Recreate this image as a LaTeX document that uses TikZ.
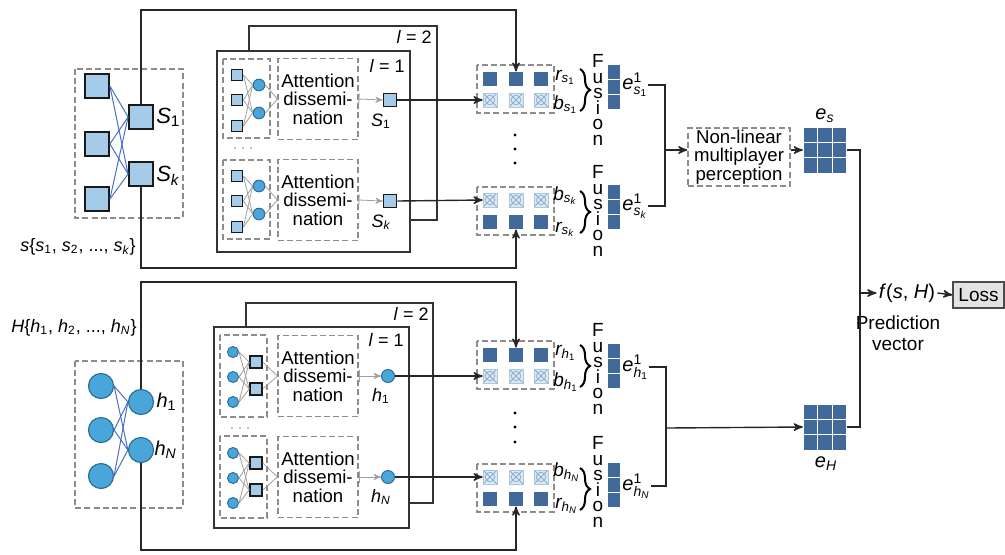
\documentclass[tikz,border=0pt]{standalone}
\usepackage{fontspec}
\setmainfont{Liberation Sans}
\usetikzlibrary{calc}
\usetikzlibrary{arrows}
\usetikzlibrary{decorations.pathreplacing}

\definecolor{sqblue}{HTML}{A6CBE8}
\definecolor{cirblue}{HTML}{4AA6DA}
\definecolor{cirline}{HTML}{2D6E98}
\definecolor{cellblue}{HTML}{41699A}
\definecolor{netblue}{HTML}{4A6FC8}
\definecolor{xfill}{HTML}{DDE8F3}
\definecolor{xline}{HTML}{8AAED2}

\tikzset{
 dashbox/.style={draw=gray!90, dash pattern=on 3pt off 1.6pt, line width=0.6pt},
 bigsq/.style={draw=black!90, line width=0.9pt, fill=sqblue, minimum size=12pt, inner sep=0},
 bigcirc/.style={circle, draw=cirline, line width=0.6pt, fill=cirblue, minimum size=12.5pt, inner sep=0},
 smsq/.style={draw=black!90, line width=0.8pt, fill=sqblue, minimum size=5.6pt, inner sep=0},
 smcirc/.style={circle, draw=cirline, line width=0.5pt, fill=cirblue, minimum size=5.8pt, inner sep=0},
 netline/.style={netblue, line width=0.5pt},
 grayline/.style={gray!75, line width=0.4pt},
 conn/.style={black!85, line width=0.7pt},
 frame/.style={draw=black!80, line width=0.7pt},
 fcell/.style={fill=cellblue, minimum size=7pt, inner sep=0},
 xcell/.style={fill=xfill, draw=xline!70, line width=0.3pt, minimum size=7pt, inner sep=0,
  path picture={
   \draw[xline, line width=0.4pt] (path picture bounding box.south west) -- (path picture bounding box.north east)
     (path picture bounding box.north west) -- (path picture bounding box.south east);
   \draw[xline, line width=0.4pt] (path picture bounding box.center) circle (2.4pt);
  }},
 vcell/.style={fill=cellblue, draw=white, line width=0.4pt, minimum width=6.8pt, minimum height=7.5pt, inner sep=0},
 gcell/.style={fill=cellblue, draw=white, line width=0.4pt, minimum width=7.25pt, minimum height=7.65pt, inner sep=0},
 att/.style={dashbox, minimum width=40pt, minimum height=40.5pt, align=center, inner sep=0, font=\fontsize{9.3}{9.2}\selectfont},
 lbl/.style={inner sep=1pt, font=\fontsize{9}{10}\selectfont},
 sublbl/.style={inner sep=0pt, font=\fontsize{9.5}{10}\selectfont},
 biglbl/.style={inner sep=1pt, font=\fontsize{11}{12}\selectfont},
 fusion/.style={align=center, inner sep=0, font=\fontsize{9.5}{7.8}\selectfont},
 brc/.style={decorate, decoration={brace, amplitude=5pt}, line width=1pt},
}

\begin{document}
\begin{tikzpicture}[x=0.5pt, y=-0.5pt, >=stealth']
\useasboundingbox (0,0) rectangle (1005,554);

% ---- top half: s ----
\draw[dashbox] (75,69) rectangle (183,218);
\foreach \i/\y in {1/86,2/144,3/199}
 \node[bigsq] (sin\i) at (97,\y) {};
\node[bigsq] (S1) at (141,117) {};
\node[bigsq] (Sk) at (141,174) {};
\foreach \i in {1,2,3} {
 \draw[netline] (sin\i.east) -- (S1.west);
 \draw[netline] (sin\i.east) -- (Sk.west);
}
\node[biglbl, anchor=west] (S1lbl) at (S1.east) {$\mathit{S}_{\mathrm{1}}$};
\node[biglbl, anchor=west] (Sklbl) at ([yshift=-1pt]Sk.east) {$\mathit{S}_{\mathit{k}}$};
\node[lbl] (slbl) at (78,247) {\textit{s}\{\textit{s}$_{\mathrm{1}}$, \textit{s}$_{\mathrm{2}}$, ..., \textit{s}$_{\mathit{k}}$\}};

\draw[frame] (249,26) rectangle (437,220);
\draw[frame, fill=white] (217,51) rectangle (410,252);
\node[lbl, anchor=east] (sl2) at (434,37) {\textit{l} = 2};
\node[lbl, anchor=east] (sl1) at (407,66) {\textit{l} = 1};
\foreach \x in {235,243,251}
 \fill[gray] (\x,148) circle (0.4pt);

\foreach \r/\o in {1/0, k/101} {
 \draw[dashbox] (223,59+\o) rectangle (270,138+\o);
 \foreach \i/\y in {1/75,2/100,3/126}
  \node[smsq] (ts\r\i) at (237,\y+\o) {};
 \foreach \j/\y in {1/85,2/113}
  \node[smcirc] (tc\r\j) at (259,\y+\o) {};
 \node[att] (tatt\r) at (318,99+\o) {Attention\\dissemi-\\nation};
 \foreach \i in {1,2,3}
  \foreach \j in {1,2}
   \draw[grayline] (ts\r\i.east) -- (tc\r\j.west);
 \foreach \j in {1,2}
  \draw[grayline] (tc\r\j.east) -- (tatt\r.west);
 \node[smsq, minimum size=6.5pt] (ss\r) at (390,100+\o) {};
 \draw[grayline, |->] (tatt\r.east) -- (ss\r.west);
}
\node[lbl] (ss1lbl) at (381,121) {$\mathit{S}_{\mathrm{1}}$};
\node[lbl] (ssklbl) at (381,222) {$\mathit{S}_{\mathit{k}}$};

% ---- bottom half: H ----
\draw[dashbox] (75,361) rectangle (183,508);
\foreach \i/\y in {1/386,2/430,3/476}
 \node[bigcirc] (hin\i) at (101,\y) {};
\node[bigcirc] (h1) at (141,402) {};
\node[bigcirc] (hN) at (141,450) {};
\foreach \i in {1,2,3} {
 \draw[netline] (hin\i.east) -- (h1.west);
 \draw[netline] (hin\i.east) -- (hN.west);
}
\node[lbl, anchor=west, font=\fontsize{10}{11}\selectfont] (h1lbl) at (h1.east) {$\mathit{h}_{\mathrm{1}}$};
\node[lbl, anchor=west, font=\fontsize{10}{11}\selectfont] (hNlbl) at ([xshift=-1pt]hN.east) {$\mathit{h}_{\mathit{N}}$};
\node[lbl] (hlbl) at (74,328) {\textit{H}\{\textit{h}$_{\mathrm{1}}$, \textit{h}$_{\mathrm{2}}$, ..., \textit{h}$_{\mathit{N}}$\}};

\draw[frame] (246,303) rectangle (433,503);
\draw[frame, fill=white] (214,327) rectangle (409,528);
\node[lbl, anchor=east] (hl2) at (431,314) {\textit{l} = 2};
\node[lbl, anchor=east] (hl1) at (406,340) {\textit{l} = 1};
\foreach \x in {232,240,248}
 \fill[gray] (\x,428) circle (0.4pt);

\foreach \r/\o in {1/0, N/101} {
 \draw[dashbox] (220,335+\o) rectangle (267,417+\o);
 \foreach \i/\y in {1/352,2/377,3/402}
  \node[smcirc, minimum size=5.5pt] (bc\r\i) at (233,\y+\o) {};
 \foreach \j/\y in {1/362,2/389}
  \node[smsq, minimum size=6pt] (bs\r\j) at (256,\y+\o) {};
 \node[att] (batt\r) at (318,376+\o) {Attention\\dissemi-\\nation};
 \foreach \i in {1,2,3}
  \foreach \j in {1,2}
   \draw[grayline] (bc\r\i.east) -- (bs\r\j.west);
 \foreach \j in {1,2}
  \draw[grayline] (bs\r\j.east) -- (batt\r.west);
 \node[smcirc, minimum size=6.5pt] (sh\r) at (388,376+\o) {};
 \draw[grayline, |->] (batt\r.east) -- (sh\r.west);
}
\node[lbl] (sh1lbl) at (381,396) {$\mathit{h}_{\mathrm{1}}$};
\node[lbl] (shNlbl) at (381,497) {$\mathit{h}_{\mathit{N}}$};

% ---- fusion blocks ----
\foreach \n/\yc/\yf/\yx/\fy/\ey in {s1/89/79/100/100/87, sk/211/222/200/211/207, h1/365/355/376/369/366, hN/488/499/477/482/485} {
 \draw[dashbox] (477,\yc-24) rectangle (554,\yc+24);
 \foreach \i/\x in {1/490,2/516,3/541} {
  \node[fcell] (f\n\i) at (\x,\yf) {};
  \node[xcell] (x\n\i) at (\x,\yx) {};
 }
 \draw[brc] (580,\yc-20) -- (580,\yc+22);
 \node[fusion] (fu\n) at (598,\fy) {F\\u\\s\\i\\o\\n};
 \foreach \j in {1,2,3}
  \node[vcell] (v\n\j) at (614,\ey+15*\j-30) {};
}
\node[sublbl, anchor=west] (rs1) at (555,77) {$\mathit{r}_{\mathit{s}_{\mathrm{1}}}$};
\node[sublbl, anchor=west] (bs1) at (553,105) {$\mathit{b}_{\mathit{s}_{\mathrm{1}}}$};
\node[sublbl, anchor=west] (bsk) at (553,196) {$\mathit{b}_{\mathit{s}_{\mathit{k}}}$};
\node[sublbl, anchor=west] (rsk) at (555,229) {$\mathit{r}_{\mathit{s}_{\mathit{k}}}$};
\node[sublbl, anchor=west] (rh1) at (555,353) {$\mathit{r}_{\mathit{h}_{\mathrm{1}}}$};
\node[sublbl, anchor=west] (bh1) at (553,382) {$\mathit{b}_{\mathit{h}_{\mathrm{1}}}$};
\node[sublbl, anchor=west] (bhN) at (553,472) {$\mathit{b}_{\mathit{h}_{\mathit{N}}}$};
\node[sublbl, anchor=west] (rhN) at (555,506) {$\mathit{r}_{\mathit{h}_{\mathit{N}}}$};

\node[sublbl, anchor=west, font=\fontsize{10}{11}\selectfont] (els1) at (622,85) {$\mathit{e}^{\mathrm{1}}_{\mathit{s}_{\mathrm{1}}}$};
\node[sublbl, anchor=west, font=\fontsize{10}{11}\selectfont] (elsk) at (622,206) {$\mathit{e}^{\mathrm{1}}_{\mathit{s}_{\mathit{k}}}$};
\node[sublbl, anchor=west, font=\fontsize{10}{11}\selectfont] (elh1) at (622,367) {$\mathit{e}^{\mathrm{1}}_{\mathit{h}_{\mathrm{1}}}$};
\node[sublbl, anchor=west, font=\fontsize{10}{11}\selectfont] (elhN) at (622,486) {$\mathit{e}^{\mathrm{1}}_{\mathit{h}_{\mathit{N}}}$};

\foreach \y in {135,149,163,413,427,442}
 \fill (515,\y) circle (0.8pt);

% ---- long connectors ----
\coordinate (stop) at (0,10);
\coordinate (sbot) at (0,268);
\coordinate (htop) at (0,282);
\coordinate (hbot) at (0,550);
\draw[conn,->] (S1.north) -- (S1.north |- stop) -| (fs12.north);
\draw[conn,->] (Sk.south) -- (Sk.south |- sbot) -| (fsk2.south);
\draw[conn,->] (h1.north) -- (h1.north |- htop) -| (fh12.north);
\draw[conn,->] (hN.south) -- (hN.south |- hbot) -| (fhN2.south);
\draw[conn,->] (ss1.east) -- (xs11.west);
\draw[conn,->] (ssk.east) -- (xsk1.west);
\draw[conn,->] (sh1.east) -- (xh11.west);
\draw[conn,->] (shN.east) -- (xhN1.west);

% ---- right part ----
\node[dashbox, align=center, minimum width=51pt, minimum height=29pt, inner sep=1pt, font=\fontsize{9.3}{9.2}\selectfont] (nlp) at (739,157) {Non-linear\\multiplayer\\perception};
\node[minimum width=21.75pt, minimum height=23pt, inner sep=0] (es) at (825,150) {};
\node[minimum width=21.75pt, minimum height=23pt, inner sep=0] (eH) at (825,427) {};
\foreach \i in {-1,0,1}
 \foreach \j in {-1,0,1} {
  \node[gcell] (es\i\j) at (825+14.5*\i,150+15.3*\j) {};
  \node[gcell] (eH\i\j) at (825+14.5*\i,427+15.3*\j) {};
 }
\node[sublbl, font=\fontsize{10}{11}\selectfont] (eslbl) at (825,116) {$\mathit{e}_{\mathit{s}}$};
\node[sublbl, font=\fontsize{10}{11}\selectfont] (eHlbl) at (826,464) {$\mathit{e}_{\mathit{H}}$};

\coordinate (sjoin) at (665,150);
\coordinate (hjoin) at (666,428);
\coordinate (pjoin) at (860,293);
\draw[conn] (els1.east) -| (sjoin) |- (elsk.east);
\draw[conn,->] (sjoin) -- (nlp.west |- sjoin);
\draw[conn,->] (nlp.east |- es.west) -- (es.west);
\draw[conn] (elh1.east) -| (hjoin) |- (elhN.east);
\draw[conn,->] (hjoin) -- (eH.west);

\node[lbl, font=\fontsize{10}{11}\selectfont] (fsh) at (907,293) {\textit{f}(\textit{s}, \textit{H})};
\node[draw=black!70, fill=gray!22, line width=0.6pt, minimum width=25.5pt, minimum height=13pt, inner sep=0, font=\fontsize{9.5}{10}\selectfont] (loss) at (978.5,295) {Loss};
\node[lbl, align=center, font=\fontsize{9.5}{10.5}\selectfont] (pred) at (898,333) {Prediction\\vector};
\draw[conn] (es.east) -| (pjoin) |- (eH.east);
\draw[conn,->] (pjoin) -- (fsh.west);
\draw[conn,->] (fsh.east) -- (loss.west);
\end{tikzpicture}
\end{document}
